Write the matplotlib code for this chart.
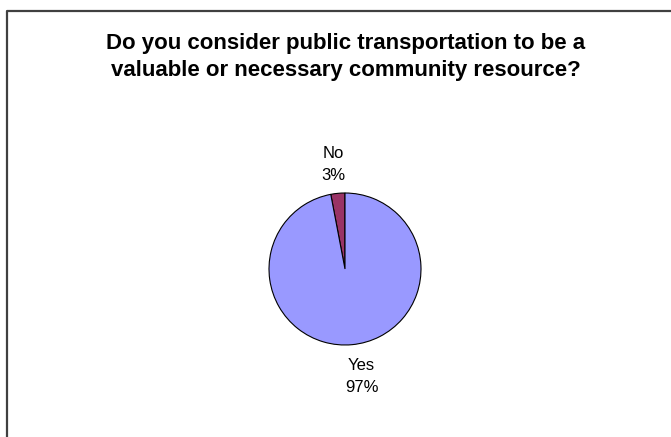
import matplotlib
matplotlib.use("Agg")
import matplotlib.pyplot as plt
from matplotlib.lines import Line2D
import numpy as np

plt.rcParams['font.family'] = ['Liberation Sans', 'DejaVu Sans']

# survey answers
labels = ['No', 'Yes']
shares = [3, 97]
colors = ['#993366', '#9999FF']
title = 'Do you consider public transportation to be a\nvaluable or necessary community resource?'

W, H = 671, 437
fig = plt.figure(figsize=(W / 100, H / 100), dpi=100)
fig.patch.set_facecolor('white')

# chart frame (cut off at right and bottom like the source)
fx = 7 / W
fy = 1 - 11 / H
fig.lines.append(Line2D([fx, fx, 1.0], [0.0, fy, fy], transform=fig.transFigure,
                        color='#404040', lw=1.6))

fig.text(346 / W, 1 - 57 / H, title, ha='center', va='center', fontsize=16,
         fontweight='bold', linespacing=1.32, color='black')

# pie centre (345, 269) px, radius 76 px
r = 76
ax = fig.add_axes([(345 - r) / W, (H - 269 - r) / H, 2 * r / W, 2 * r / H])
wedges, texts = ax.pie(shares, colors=colors, startangle=90, counterclock=True,
                       wedgeprops=dict(edgecolor='black', linewidth=0.8),
                       labels=[f'{l}\n{s}%' for l, s in zip(labels, shares)],
                       labeldistance=1.38,
                       textprops=dict(ha='center', va='center', fontsize=12,
                                      linespacing=1.6))
ax.set_xlim(-1, 1)
ax.set_ylim(-1, 1)
ax.axis('off')

# nudge labels a little, as Excel places them
x, y = texts[0].get_position()
texts[0].set_position((x - 0.02, y))
x, y = texts[1].get_position()
texts[1].set_position((x + 0.09, y - 0.04))

fig.savefig('out.png', dpi=100, facecolor='white')
